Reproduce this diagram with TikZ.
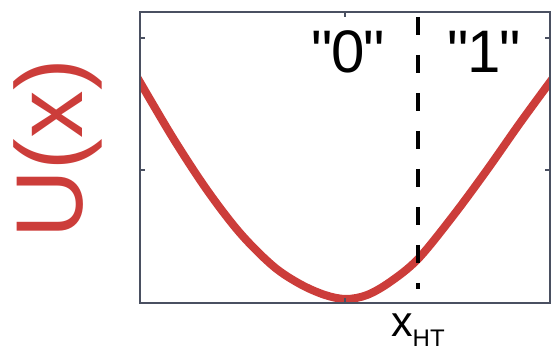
\documentclass[tikz,border=0pt]{standalone}
\usepackage{fontspec}
\setmainfont{Liberation Sans}
\usepackage{xcolor}
\definecolor{potred}{HTML}{CC3D3A}
\definecolor{axisgray}{HTML}{4A5061}
\usepackage{tikz}

\begin{document}
\begin{tikzpicture}[
  x=1pt, y=-1pt,
  frame/.style={draw=axisgray, line width=1.8pt},
  tick/.style={draw=axisgray, line width=1.2pt},
  curve/.style={draw=potred, line width=8pt},
  thr/.style={draw=black, line width=4.5pt, dash pattern=on 18pt off 20pt},
  lbl/.style={inner sep=0pt, anchor=base}
]
  \useasboundingbox (0,0) rectangle (552,355);
  % potential well
  \begin{scope}
    \clip (140,12) rectangle (550,303);
    \draw[curve] plot[smooth, tension=0.55] coordinates {
      (137,77) (173,138) (207,190) (240,233) (273,266) (300,284)
      (325,295) (346,299) (367,295) (390,282) (418,259) (453,216)
      (487,170) (520,123) (553,78)};
  \end{scope}
  % threshold
  \coordinate (ttop) at (418,17);
  \coordinate (tbot) at (418,289);
  \draw[thr] (ttop) -- (tbot);
  % axes box and ticks
  \draw[frame] (140,12) rectangle (550,303);
  \foreach \ty in {38,170} {
    \draw[tick] (140,\ty) -- (145,\ty);
    \draw[tick] (550,\ty) -- (545,\ty);
  }
  \draw[tick] (345,12) -- (345,17);
  \draw[tick] (345,303) -- (345,298);
  % labels
  \node[lbl, font=\fontsize{60}{60}\selectfont] (zero) at (348,73) {\textquotedbl\kern-1pt0\kern-1pt\textquotedbl};
  \node[lbl, font=\fontsize{60}{60}\selectfont] (one) at (484,73) {\textquotedbl\kern-1pt1\kern-1pt\textquotedbl};
  \node[lbl, anchor=base west] (xht) at (391,337)
    {{\fontsize{43}{43}\selectfont x}\raisebox{-10pt}{\fontsize{24}{24}\selectfont HT}};
  \node[lbl, rotate=90, text=potred, font=\fontsize{95}{95}\selectfont] (ux) at (82,149) {U(x)};
\end{tikzpicture}
\end{document}
